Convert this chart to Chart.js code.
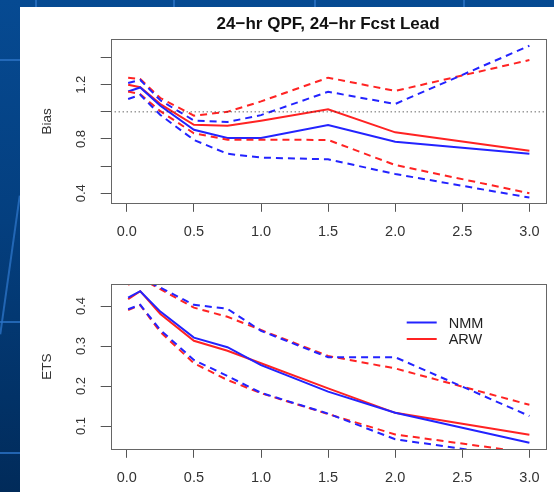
<!DOCTYPE html>
<html>
<head>
<meta charset="utf-8">
<script src="https://cdn.jsdelivr.net/npm/chart.js@4.4.1/dist/chart.umd.min.js"></script>
<style>
  html, body { margin: 0; padding: 0; }
  body { width: 554px; height: 492px; position: relative; overflow: hidden;
         background: linear-gradient(180deg, #064a92 0%, #043f7f 45%, #012b5a 100%); }
  .ln { position: absolute; background: #2a72c4; opacity: 0.8; }
  #panel { position: absolute; left: 20px; top: 7px; width: 534px; height: 485px; background: #fff; }
  canvas { position: absolute; left: 0; }
  #c1 { top: 0; }
  #c2 { top: 245px; }
</style>
</head>
<body>
<div class="ln" style="left:35px;top:0;width:2px;height:7px"></div>
<div class="ln" style="left:173px;top:0;width:2px;height:7px"></div>
<div class="ln" style="left:314px;top:0;width:2px;height:7px"></div>
<div class="ln" style="left:463px;top:0;width:2px;height:7px"></div>
<div class="ln" style="left:0;top:59px;width:20px;height:2px"></div>
<div class="ln" style="left:0;top:321px;width:20px;height:2px"></div>
<div class="ln" style="left:0;top:452px;width:20px;height:2px"></div>
<div class="ln" style="left:9px;top:195px;width:2px;height:140px;transform:rotate(8deg)"></div>
<div id="panel"></div>
<canvas id="c1" width="554" height="245" style="width:554px;height:245px"></canvas>
<canvas id="c2" width="554" height="247" style="width:554px;height:247px"></canvas>
<script>
// precipitation thresholds (in)
var THRESH = [0.01, 0.1, 0.25, 0.5, 0.75, 1.0, 1.5, 2.0, 3.0];

// frequency bias with confidence bounds
var NMM_BIAS    = [1.150, 1.180, 1.045, 0.868, 0.808, 0.808, 0.903, 0.780, 0.692];
var NMM_BIAS_LO = [1.095, 1.125, 0.977, 0.793, 0.691, 0.663, 0.650, 0.542, 0.368];
var NMM_BIAS_HI = [1.212, 1.235, 1.085, 0.936, 0.925, 0.976, 1.148, 1.058, 1.487];
var ARW_BIAS    = [1.200, 1.182, 1.057, 0.905, 0.898, 0.935, 1.019, 0.849, 0.714];
var ARW_BIAS_LO = [1.149, 1.130, 1.005, 0.842, 0.795, 0.795, 0.793, 0.608, 0.400];
var ARW_BIAS_HI = [1.252, 1.242, 1.102, 0.972, 1.000, 1.077, 1.252, 1.154, 1.382];
var BIAS_REF = 1.0;

// equitable threat score with confidence bounds
var NMM_ETS    = [0.421, 0.437, 0.386, 0.321, 0.297, 0.252, 0.186, 0.133, 0.058];
var NMM_ETS_LO = [0.392, 0.403, 0.340, 0.265, 0.225, 0.183, 0.131, 0.067, 0.019];
var NMM_ETS_HI = [0.458, 0.470, 0.446, 0.403, 0.393, 0.338, 0.272, 0.272, 0.125];
var ARW_ETS    = [0.417, 0.437, 0.380, 0.313, 0.288, 0.257, 0.194, 0.133, 0.078];
var ARW_ETS_LO = [0.390, 0.402, 0.335, 0.257, 0.215, 0.182, 0.130, 0.079, 0.033];
var ARW_ETS_HI = [0.453, 0.470, 0.442, 0.396, 0.373, 0.340, 0.275, 0.244, 0.153];

var X_MIN = -0.12, X_MAX = 3.12;
var BIAS_LABELS = [0.4, 0.8, 1.2];
var ETS_LABELS = [0.1, 0.2, 0.3, 0.4];

var BLUE = 'rgb(35,35,255)';
var RED = 'rgb(255,35,35)';
var FONT = '"Liberation Sans", Arial, Helvetica, sans-serif';

function pts(ys) {
  return ys.map(function(v, i) { return { x: THRESH[i], y: v }; });
}

function series(label, ys, color, dashed) {
  return {
    label: label,
    data: pts(ys),
    borderColor: color,
    borderWidth: 2,
    borderDash: dashed ? [7, 5] : [],
    pointRadius: 0,
    tension: 0,
    clip: 0
  };
}

// box round the plot region, rotated y labels, optional legend
var framePlugin = {
  id: 'frame',
  afterDraw: function(chart, args, opts) {
    var a = chart.chartArea, ctx = chart.ctx, ys = chart.scales.y;
    ctx.save();
    ctx.strokeStyle = '#666';
    ctx.lineWidth = 1;
    ctx.strokeRect(Math.round(a.left) + 0.5, Math.round(a.top) + 0.5,
                   Math.round(a.right - a.left), Math.round(a.bottom - a.top));

    ctx.fillStyle = '#333';
    ctx.font = '13px ' + FONT;
    ctx.textAlign = 'center';
    ctx.textBaseline = 'middle';
    opts.labels.forEach(function(v) {
      var y = ys.getPixelForValue(v);
      ctx.save();
      ctx.translate(a.left - 29, y);
      ctx.rotate(-Math.PI / 2);
      ctx.fillText(v.toFixed(1), 0, 0);
      ctx.restore();
    });

    if (opts.legend) {
      var lx = a.left + 296, ly = a.top + 38.5;
      ctx.font = '14.5px ' + FONT;
      ctx.textAlign = 'left';
      opts.legend.forEach(function(item, i) {
        var y = ly + i * 16.5;
        ctx.strokeStyle = item.color;
        ctx.lineWidth = 2;
        ctx.beginPath();
        ctx.moveTo(lx, y);
        ctx.lineTo(lx + 30, y);
        ctx.stroke();
        ctx.fillStyle = '#222';
        ctx.fillText(item.text, lx + 42, y + 1);
      });
    }
    ctx.restore();
  }
};

function xAxis(height) {
  return {
    type: 'linear',
    min: X_MIN,
    max: X_MAX,
    border: { display: false },
    grid: { drawOnChartArea: false, color: '#555', tickLength: 8.5, lineWidth: 1 },
    ticks: {
      stepSize: 0.5,
      includeBounds: false,
      padding: 11,
      color: '#333',
      font: { size: 14.5, family: FONT },
      maxRotation: 0,
      callback: function(v) { return Number(v).toFixed(1); }
    },
    afterFit: function(s) { s.height = height; }
  };
}

function yAxis(title, min, max, step) {
  return {
    type: 'linear',
    min: min,
    max: max,
    border: { display: false },
    grid: { drawOnChartArea: false, color: '#555', tickLength: 10, lineWidth: 1 },
    ticks: { display: false, stepSize: step, includeBounds: false },
    title: {
      display: true,
      text: title,
      color: '#333',
      font: { size: 13.5, family: FONT },
      padding: { top: 39.5, bottom: 0 }
    },
    afterFit: function(s) { s.width = 110.7; }
  };
}

var biasChart = new Chart(document.getElementById('c1').getContext('2d'), {
  type: 'line',
  data: {
    datasets: [
      {
        label: 'ref',
        data: [{ x: X_MIN, y: BIAS_REF }, { x: X_MAX, y: BIAS_REF }],
        borderColor: '#222',
        borderWidth: 1,
        borderDash: [1, 3],
        pointRadius: 0,
        clip: 0
      },
      series('NMM lo', NMM_BIAS_LO, BLUE, true),
      series('NMM hi', NMM_BIAS_HI, BLUE, true),
      series('ARW lo', ARW_BIAS_LO, RED, true),
      series('ARW hi', ARW_BIAS_HI, RED, true),
      series('NMM', NMM_BIAS, BLUE, false),
      series('ARW', ARW_BIAS, RED, false)
    ]
  },
  options: {
    responsive: false,
    animation: false,
    layout: { padding: { left: 0, right: 8.5, top: 0, bottom: 0 } },
    scales: {
      x: xAxis(41.7),
      y: yAxis('Bias', 0.326, 1.534, 0.2)
    },
    plugins: {
      legend: { display: false },
      tooltip: { enabled: false },
      title: {
        display: true,
        text: '24\u2212hr QPF, 24\u2212hr Fcst Lead',
        fullSize: false,
        color: '#111',
        font: { size: 17, weight: 'bold', family: FONT },
        padding: { top: 14, bottom: 5 }
      },
      frame: { labels: BIAS_LABELS }
    }
  },
  plugins: [framePlugin]
});

var etsChart = new Chart(document.getElementById('c2').getContext('2d'), {
  type: 'line',
  data: {
    datasets: [
      series('NMM lo', NMM_ETS_LO, BLUE, true),
      series('NMM hi', NMM_ETS_HI, BLUE, true),
      series('ARW lo', ARW_ETS_LO, RED, true),
      series('ARW hi', ARW_ETS_HI, RED, true),
      series('NMM', NMM_ETS, BLUE, false),
      series('ARW', ARW_ETS, RED, false)
    ]
  },
  options: {
    responsive: false,
    animation: false,
    layout: { padding: { left: 0, right: 8.5, top: 39, bottom: 0 } },
    scales: {
      x: xAxis(42.7),
      y: yAxis('ETS', 0.0418, 0.455, 0.1)
    },
    plugins: {
      legend: { display: false },
      tooltip: { enabled: false },
      frame: {
        labels: ETS_LABELS,
        legend: [{ text: 'NMM', color: BLUE }, { text: 'ARW', color: RED }]
      }
    }
  },
  plugins: [framePlugin]
});
</script>
</body>
</html>
